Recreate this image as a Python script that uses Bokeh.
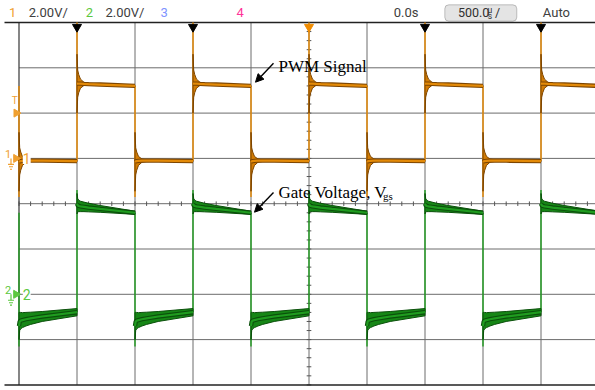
import numpy as np
from bokeh.plotting import figure
from bokeh.models import Range1d, Arrow, NormalHead, BoxAnnotation, Label
from bokeh.core.properties import value
from bokeh.embed import file_html
from bokeh.resources import INLINE

# ---------------- data (time in ms, 500 us/div; channels 2 V/div) ----------------
grid_x = [-2.5, -2.0, -1.5, -1.0, -0.5, 0.0, 0.5, 1.0, 1.5, 2.0, 2.5]
grid_y = [-4, -3, -2, -1, 0, 1, 2, 3, 4]
rise_t = [-2.0, -1.0, 0.0, 1.0, 2.0]
fall_t = [-2.5, -1.5, -0.5, 0.5, 1.5]
marker_t = [-2.0, -1.0, 1.0, 2.0]
trig_t = [0.0]
trig_level = 2.0                      # V on channel 1
ring_dt = [0.0, 0.006, 0.015, 0.03, 0.06, 0.1, 0.2, 0.5]   # ms after an edge

# channel 1 : PWM signal
ch1_high = [3.30, 3.30, 3.30, 3.30, 3.29, 3.28, 3.26, 3.20]
ch1_low = [-0.15, -0.13, -0.12, -0.11, -0.10, -0.10, -0.10, -0.12]
ch1_ring = [1.30, 0.60, 0.40, 0.20, 0.07, 0.04, 0.03, 0.03]
ch1_spike_up = 6.0
ch1_spike_down = -1.7

# channel 2 : gate voltage
ch2_high = [4.00, 3.93, 3.90, 3.88, 3.86, 3.83, 3.77, 3.60]
ch2_high_ring = [0.45, 0.30, 0.25, 0.23, 0.21, 0.19, 0.15, 0.07]
ch2_low = [-1.40, -1.20, -1.16, -1.14, -1.10, -1.06, -0.98, -0.79]
ch2_low_ring = [0.60, 0.40, 0.36, 0.33, 0.30, 0.27, 0.22, 0.16]
ch2_spike_up = 4.6
ch2_spike_down = -2.3

V_PER_DIV = 2.0
CH1_OFFSET = 1.0     # divisions
CH2_OFFSET = -2.0

ORANGE = "#e38a08"
ORANGE_FILL = "#d27c04"
ORANGE_DARK = "#7d4500"
ORANGE_MARK = "#f0a030"
GREEN = "#1f9c1f"
GREEN_FILL = "#168616"
GREEN_DARK = "#0b500b"
GREEN_MARK = "#5cc840"
GRID = "#6c6c6c"

W, H = 595, 390


def PXX(px):   # placement helper: pixel -> ms
    return (px - 308.5) / 116.0


def PYR(py):   # placement helper: pixel -> divisions
    return (203.2 - py) / 45.3


x_lo, x_hi = PXX(0), PXX(W)
y_top, y_bot = PYR(0), PYR(H)

p = figure(width=W, height=H, x_range=Range1d(x_lo, x_hi), y_range=Range1d(y_bot, y_top),
           x_axis_type=None, y_axis_type=None, output_backend="svg", toolbar_location=None,
           min_border=0, background_fill_color="white", border_fill_color="white",
           outline_line_color=None)
p.extra_y_ranges = {
    "ch1": Range1d((y_bot - CH1_OFFSET) * V_PER_DIV, (y_top - CH1_OFFSET) * V_PER_DIV),
    "ch2": Range1d((y_bot - CH2_OFFSET) * V_PER_DIV, (y_top - CH2_OFFSET) * V_PER_DIV),
}

# ---------------- graticule ----------------
gx = grid_x[1:]
p.segment(x0=gx, y0=[grid_y[0]] * len(gx), x1=gx, y1=[grid_y[-1]] * len(gx),
          line_color=GRID, line_width=1)
gy = grid_y[1:-1]
p.segment(x0=[grid_x[0]] * len(gy), y0=gy, x1=[x_hi] * len(gy), y1=gy,
          line_color=GRID, line_width=1)
# minor ticks on the centre lines
tx = np.arange(grid_x[0], x_hi, 0.1)
p.segment(x0=tx, y0=[-0.05] * len(tx), x1=tx, y1=[0.05] * len(tx), line_color="#555555", line_width=1)
ty = np.arange(-4, 4.001, 0.2)
p.segment(x0=[-0.02] * len(ty), y0=ty, x1=[0.02] * len(ty), y1=ty, line_color="#555555", line_width=1)
# borders
p.segment(x0=[grid_x[0]], y0=[grid_y[0]], x1=[grid_x[0]], y1=[grid_y[-1]], line_color="#444444", line_width=1.3)
p.segment(x0=[PXX(4)] * 2, y0=[grid_y[0], grid_y[-1]], x1=[x_hi] * 2, y1=[grid_y[0], grid_y[-1]],
          line_color="#222222", line_width=1.5)


# ---------------- traces ----------------
def build(hi, hi_ring, lo, lo_ring, spike_up, spike_down):
    edges = sorted([(t, True) for t in rise_t] + [(t, False) for t in fall_t])
    bx, by, lx, ly, ex, ey = [], [], [], [], [], []
    for t, is_rise in edges:
        c, r = (hi, hi_ring) if is_rise else (lo, lo_ring)
        prev_end = lo[-1] if is_rise else hi[-1]
        spike = spike_up if is_rise else spike_down
        xs = [t + d for d in ring_dt]
        bx.append(xs + xs[::-1])
        by.append([a + b for a, b in zip(c, r)] + [a - b for a, b in zip(c, r)][::-1])
        lx.append(xs)
        ly.append(list(c))
        ex.append([t, t, t])
        ey.append([prev_end, spike, c[0]])
    return bx, by, lx, ly, ex, ey


for ch, args, main, fill, dark, ew in [
    ("ch2", (ch2_high, ch2_high_ring, ch2_low, ch2_low_ring, ch2_spike_up, ch2_spike_down),
     GREEN, GREEN_FILL, GREEN_DARK, 1.4),
    ("ch1", (ch1_high, ch1_ring, ch1_low, ch1_ring, ch1_spike_up, ch1_spike_down),
     ORANGE, ORANGE_FILL, ORANGE_DARK, 1.5),
]:
    bx, by, lx, ly, ex, ey = build(*args)
    p.multi_line(xs=ex, ys=ey, line_color=main, line_width=ew, y_range_name=ch)
    p.patches(xs=bx, ys=by, fill_color=fill, line_color=dark, line_width=1.0, y_range_name=ch)
    p.multi_line(xs=lx, ys=ly, line_color=dark, line_width=4.4, y_range_name=ch)
    p.multi_line(xs=lx, ys=ly, line_color=main, line_width=2.2, y_range_name=ch)

# ---------------- top markers ----------------
p.scatter(x=marker_t, y=[PYR(26.5)] * len(marker_t), marker="inverted_triangle", size=9,
          fill_color="black", line_color="black")
p.scatter(x=trig_t, y=[PYR(26.5)] * len(trig_t), marker="inverted_triangle", size=9,
          fill_color="#f08c00", line_color="#f08c00")


# ---------------- left channel markers ----------------
def ground(xc, ych, rng, color):
    def dy(pix):
        return -pix / 45.3 * V_PER_DIV
    p.segment(x0=[PXX(xc)], y0=[ych], x1=[PXX(xc)], y1=[ych + dy(6)], line_color=color,
              line_width=1.2, y_range_name=rng)
    for i, w in enumerate([3.0, 2.0, 1.0]):
        yy = ych + dy(6 + 2.4 * i)
        p.segment(x0=[PXX(xc - w)], y0=[yy], x1=[PXX(xc + w)], y1=[yy], line_color=color,
                  line_width=1.1, y_range_name=rng)


for rng, color, name in [("ch1", ORANGE_MARK, "1"), ("ch2", GREEN_MARK, "2")]:
    p.scatter(x=[PXX(15.5)], y=[0.0], marker="triangle", angle=-np.pi / 2, size=8,
              fill_color=color, line_color=color, y_range_name=rng)
    p.text(x=[PXX(4.5)], y=[0.2], text=[name], text_font=value("Roboto"), text_font_size="11px",
           text_color=color, text_baseline="middle", text_align="left", y_range_name=rng)
    ground(10.5, 0.0, rng, color)
    p.add_layout(Label(x=PXX(22.3), y=0.0, y_range_name=rng, text=name, text_font="Roboto",
                       text_font_size="14px", text_color=color, text_baseline="middle",
                       background_fill_color="white"))

p.scatter(x=[PXX(15.8)], y=[trig_level], marker="triangle", angle=-np.pi / 2, size=8,
          fill_color=ORANGE_MARK, line_color=ORANGE_MARK, y_range_name="ch1")
p.text(x=[PXX(14.3)], y=[PYR(100)], text=["T"], text_font=value("Roboto"), text_font_size="10px",
       text_color=ORANGE_MARK, text_baseline="middle", text_align="center")

# ---------------- header ----------------
box = BoxAnnotation(left=PXX(444.3), right=PXX(516.3), top=PYR(4.3), bottom=PYR(20.7),
                    fill_color="#e4e4e4", fill_alpha=1, line_color="#4a4a4a", line_width=1,
                    border_radius=4, level="underlay")
p.add_layout(box)

hdr_text = ["1", "2.00V/", "2", "2.00V/", "3", "4", "0.0s", "Auto"]
hdr_px = [8.6, 28.3, 85.3, 105.0, 160.0, 236.0, 393.3, 542.3]
hdr_col = [ORANGE_MARK, "#404040", GREEN_MARK, "#404040", "#8094ff", "#ff3399", "#404040", "#404040"]
p.text(x=[PXX(v) for v in hdr_px], y=[PYR(12.0)] * len(hdr_px), text=hdr_text,
       text_color=hdr_col, text_font=value("Roboto"), text_font_size="13px",
       text_baseline="middle", text_align="left")
p.text(x=[PXX(457.5), PXX(494.5)], y=[PYR(12.3)] * 2, text=["500.0", "/"], text_color="#303030",
       text_font=value("Roboto"), text_font_size="12.5px", text_baseline="middle", text_align="left")
p.text(x=[PXX(487.0), PXX(487.2)], y=[PYR(9.2), PYR(15.6)], text=["µ", "s"], text_color="#303030",
       text_font=value("Roboto"), text_font_size="8.5px", text_baseline="middle", text_align="left")

# ---------------- annotations ----------------
p.add_layout(Arrow(end=NormalHead(size=8, fill_color="black", line_color="black", line_width=1),
                   x_start=PXX(273), y_start=PYR(62.7), x_end=PXX(255), y_end=PYR(81.7),
                   line_color="black", line_width=1.4))
p.add_layout(Arrow(end=NormalHead(size=8, fill_color="black", line_color="black", line_width=1),
                   x_start=PXX(273), y_start=PYR(192.0), x_end=PXX(254), y_end=PYR(211.7),
                   line_color="black", line_width=1.4))
p.text(x=[PXX(278), PXX(278)], y=[PYR(65.5), PYR(191.7)], text=["PWM Signal", "Gate Voltage, V"],
       text_font=value("Liberation Serif"), text_font_size="17px", text_color="black",
       text_baseline="alphabetic", text_align="left")
p.text(x=[PXX(382.5)], y=[PYR(195.0)], text=["gs"], text_font=value("Liberation Serif"),
       text_font_size="11px", text_color="black", text_baseline="alphabetic", text_align="left")

open("out.html", "w").write(file_html(p, INLINE))
